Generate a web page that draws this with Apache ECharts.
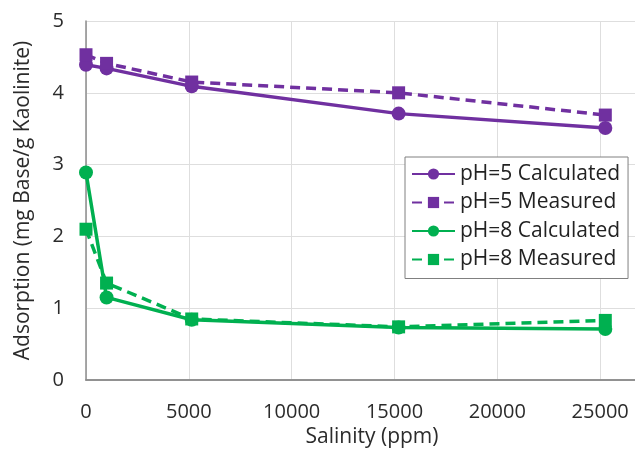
<!DOCTYPE html>
<html lang="en">
  <head>
    <meta charset="UTF-8" />
    <title>Adsorption vs Salinity</title>
    <script src="https://cdn.jsdelivr.net/npm/echarts/dist/echarts.min.js"></script>
    <style>
      html, body { margin: 0; padding: 0; background: #fff; }
      #chart { width: 635px; height: 453px; }
    </style>
  </head>
  <body>
    <div id="chart"></div>
    <script>
      // salinity (ppm) of the five samples
      const salinity = [0, 1000, 5140, 15200, 25250];

      // adsorption, mg base / g kaolinite
      const ph5Calculated = [4.39, 4.34, 4.09, 3.71, 3.51];
      const ph5Measured = [4.53, 4.41, 4.15, 4.0, 3.69];
      const ph8Calculated = [2.89, 1.15, 0.84, 0.73, 0.71];
      const ph8Measured = [2.1, 1.35, 0.85, 0.74, 0.83];

      const seriesNames = [
        "pH=5 Calculated",
        "pH=5 Measured",
        "pH=8 Calculated",
        "pH=8 Measured",
      ];

      const purple = "#7030A0";
      const green = "#00B050";
      const font = "'Open Sans', Lato, sans-serif";

      function pairs(values) {
        return salinity.map((s, i) => [s, values[i]]);
      }

      function makeSeries(name, values, color, dashed) {
        return {
          name: name,
          type: "line",
          data: pairs(values),
          symbol: dashed ? "rect" : "circle",
          symbolSize: dashed ? 13 : 14,
          itemStyle: { color: color },
          lineStyle: {
            color: color,
            width: 3.5,
            type: dashed ? [10, 6] : "solid",
          },
          emphasis: { disabled: true },
          z: dashed ? 3 : 2,
        };
      }

      var chart = echarts.init(document.getElementById("chart"));
      var option = {
        animation: false,
        textStyle: { fontFamily: font },
        // plot runs past the right edge of the picture (image is cropped)
        grid: { left: 86, top: 21, width: 617, height: 359, outerBoundsMode: "none" },
        legend: {
          orient: "vertical",
          left: 405,
          top: 157,
          backgroundColor: "#fff",
          borderColor: "#808080",
          borderWidth: 1,
          borderRadius: 0,
          padding: [6, 8, 8, 6],
          itemWidth: 43,
          itemHeight: 14,
          itemGap: 6.5,
          data: seriesNames,
          textStyle: { fontSize: 21, color: "#222", fontFamily: font, lineHeight: 22 },
        },
        xAxis: [
          {
            type: "value",
            min: 0,
            max: 30000,
            interval: 5000,
            name: "Salinity (ppm)",
            nameLocation: "middle",
            nameGap: 47,
            nameTextStyle: {
              fontSize: 21,
              color: "#2b2b2b",
              fontFamily: font,
              padding: [0, 45, 0, 0],
            },
            axisLine: { onZero: false, lineStyle: { color: "#8c8c8c", width: 1.5 } },
            axisTick: { show: false },
            axisLabel: {
              fontSize: 20,
              color: "#2b2b2b",
              margin: 22,
              fontFamily: font,
              formatter: (v) => String(v),
            },
            splitLine: { show: true, lineStyle: { color: "#dedede", width: 1 } },
          },
          {
            type: "value",
            position: "top",
            min: 0,
            max: 30000,
            interval: 5000,
            axisLine: { show: true, lineStyle: { color: "#8c8c8c", width: 1.5 } },
            axisTick: { show: false },
            axisLabel: { show: false },
            splitLine: { show: false },
          },
        ],
        yAxis: {
          type: "value",
          min: 0,
          max: 5,
          interval: 1,
          name: "Adsorption (mg Base/g Kaolinite)",
          nameLocation: "middle",
          nameGap: 52,
          nameTextStyle: { fontSize: 21, color: "#2b2b2b", fontFamily: font },
          axisLine: { show: true, lineStyle: { color: "#8c8c8c", width: 1.5 } },
          axisTick: { show: false },
          axisLabel: { fontSize: 20, color: "#2b2b2b", margin: 22, fontFamily: font },
          splitLine: { show: true, lineStyle: { color: "#dedede", width: 1 } },
        },
        series: [
          makeSeries(seriesNames[0], ph5Calculated, purple, false),
          makeSeries(seriesNames[1], ph5Measured, purple, true),
          makeSeries(seriesNames[2], ph8Calculated, green, false),
          makeSeries(seriesNames[3], ph8Measured, green, true),
        ],
      };

      option && chart.setOption(option);
    </script>
  </body>
</html>
